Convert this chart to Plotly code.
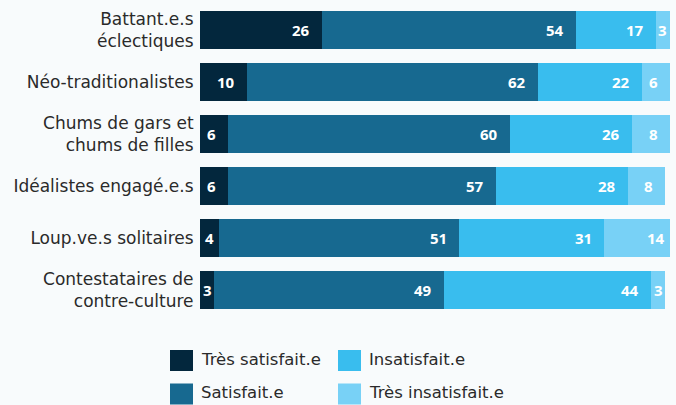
import plotly.graph_objects as go

# Segments de satisfaction par profil (pourcentages)
categories = [
    "Battant.e.s<br>éclectiques",
    "Néo-traditionalistes",
    "Chums de gars et<br>chums de filles",
    "Idéalistes engagé.e.s",
    "Loup.ve.s solitaires",
    "Contestataires de<br>contre-culture",
]
tres_satisfait = [26, 10, 6, 6, 4, 3]
satisfait = [54, 62, 60, 57, 51, 49]
insatisfait = [17, 22, 26, 28, 31, 44]
tres_insatisfait = [3, 6, 8, 8, 14, 3]

series_names = ["Très satisfait.e", "Satisfait.e", "Insatisfait.e", "Très insatisfait.e"]
series_values = [tres_satisfait, satisfait, insatisfait, tres_insatisfait]
colors = ["#03273d", "#176990", "#39bdee", "#78d1f6"]

FONT = "DejaVu Sans"
NUM_FONT = "Open Sans"
TEXT_COLOR = "#2a2a2a"
BG = "#f8fbfc"

W, H = 676, 405
M_L, M_R, M_T, M_B = 200, 6, 4, 89
PW, PH = W - M_L - M_R, H - M_T - M_B

fig = go.Figure()
for name, vals, col in zip(series_names, series_values, colors):
    fig.add_trace(go.Bar(
        y=categories, x=vals, name=name, orientation="h",
        marker=dict(color=col, line=dict(width=0)),
        showlegend=False, hoverinfo="x+y",
    ))

# Value labels, right-aligned inside each segment (centred in narrow ones)
annotations = []
for ci, cat in enumerate(categories):
    cum = 0
    for si, vals in enumerate(series_values):
        v = vals[ci]
        cum += v
        if v <= 4:
            x, anchor, shift = cum - v / 2, "center", 0
        elif si == 3 and v >= 12:
            x, anchor, shift = cum, "right", -3
        else:
            x, anchor, shift = cum, "right", -10
        annotations.append(dict(
            x=x, y=cat, xref="x", yref="y", text=str(v), showarrow=False,
            xanchor=anchor, yanchor="middle", xshift=shift,
            font=dict(family=NUM_FONT, size=15, color="white", weight="bold"),
        ))

# Legend drawn as two columns of swatches below the bars
def px_x(px):
    return (px - M_L) / PW

def px_y(py):
    return (H - M_B - py) / PH

legend_layout = [(170, 360.5), (170, 394), (338, 360.5), (338, 394)]
shapes = []
for (lx, ly), name, col in zip(legend_layout, series_names, colors):
    shapes.append(dict(
        type="rect", xref="paper", yref="paper",
        x0=px_x(lx), x1=px_x(lx + 23), y0=px_y(ly - 10.5), y1=px_y(ly + 10.5),
        fillcolor=col, line=dict(width=0),
    ))
    annotations.append(dict(
        x=px_x(lx + 29), y=px_y(ly - 1.5), xref="paper", yref="paper",
        text=name, showarrow=False, xanchor="left", yanchor="middle",
        font=dict(family=FONT, size=16.5, color=TEXT_COLOR),
    ))

fig.update_layout(
    barmode="stack",
    width=W, height=H,
    margin=dict(l=M_L, r=M_R, t=M_T, b=M_B, pad=0),
    paper_bgcolor=BG, plot_bgcolor=BG,
    bargap=0.28,
    font=dict(family=FONT, color=TEXT_COLOR),
    xaxis=dict(range=[0, 100], visible=False, fixedrange=True),
    yaxis=dict(
        autorange="reversed", showgrid=False, zeroline=False, showline=False,
        ticks="outside", ticklen=2, tickcolor="rgba(0,0,0,0)",
        tickfont=dict(family=FONT, size=17, color=TEXT_COLOR),
    ),
    annotations=annotations,
    shapes=shapes,
)

fig.write_html("out.html")
